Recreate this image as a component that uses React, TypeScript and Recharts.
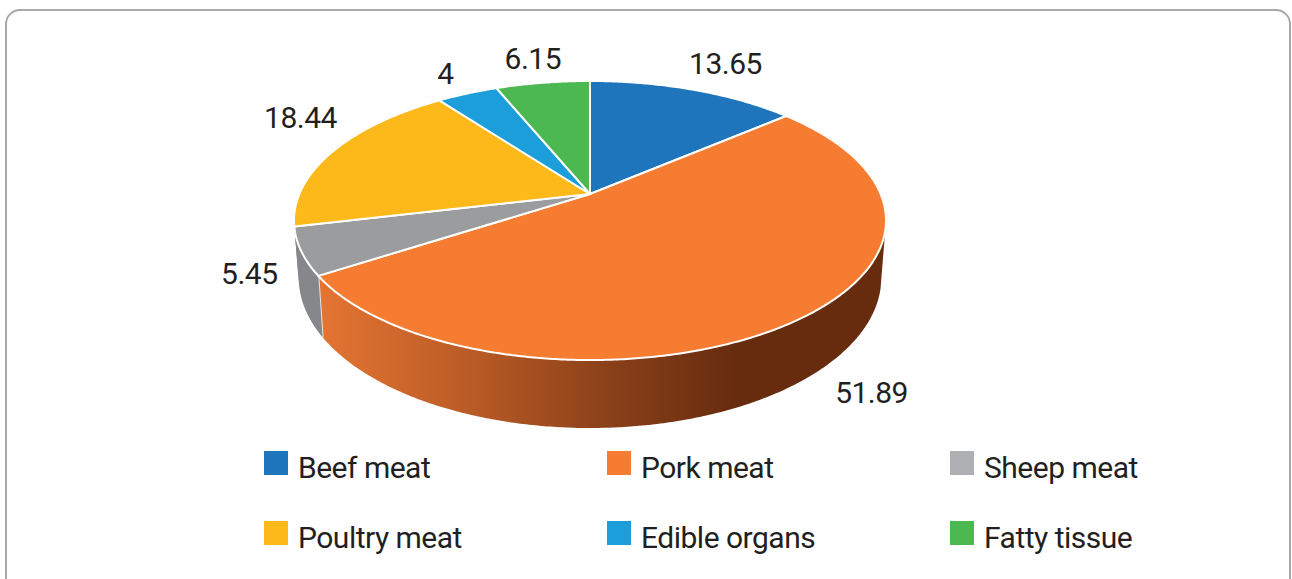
import React from "react";
import { PieChart, Pie, Legend } from "recharts";

const categories = ["Beef meat", "Pork meat", "Sheep meat", "Poultry meat", "Edible organs", "Fatty tissue"];
const shares = [13.65, 51.89, 5.45, 18.44, 4, 6.15];
const topColors = ["#1f75bc", "#f57c30", "#9a9c9e", "#fdb81a", "#1b9ed9", "#4cb851"];
const legendColors = ["#1f75bc", "#f57c30", "#aeb0b3", "#fdb81a", "#1b9ed9", "#4cb851"];
const sideColors = ["#1f75bc", "url(#porkWall)", "#85878a", "#85878a", "#1b9ed9", "#4cb851"];
const labelNudges = [[32, -26], [76, 72], [-52, 22], [-33, -33], [-22, -20], [-10, -24]];

const rows = categories.map((name, i) => ({ name, value: shares[i], fill: legendColors[i], top: topColors[i], side: sideColors[i] }));

const FONT = "Roboto, sans-serif";
const TRACKING = "-0.5px";
const CX = 590, CY = 194, K = -0.19;
const TOP = { a: 290.6, b: 134.5, y: CY };
const BASE = { a: 286, b: 145, y: 249 };
const VIEW_FROM = 105, VIEW_TO = 262;

function rim(theta: number, p: { a: number; b: number; y: number }) {
  const t = (theta * Math.PI) / 180;
  const u = Math.sin(t), v = -Math.cos(t), w = 1 + K * v;
  return [CX + (p.a * u) / w, p.y + (p.b * v) / w];
}
function arcPoints(from: number, to: number, p: { a: number; b: number; y: number }) {
  const pts: number[][] = [];
  const n = Math.max(2, Math.ceil(Math.abs(to - from) * 2));
  for (let i = 0; i <= n; i++) pts.push(rim(from + ((to - from) * i) / n, p));
  return pts;
}
const toPath = (pts: number[][]) => pts.map((q, i) => `${i ? "L" : "M"}${q[0].toFixed(2)},${q[1].toFixed(2)}`).join(" ");

function TopSlice(props: any) {
  const from = 90 - props.startAngle, to = 90 - props.endAngle;
  const d = `M${CX},${CY} ` + toPath(arcPoints(from, to, TOP)).replace(/^M/, "L") + " Z";
  return <path d={d} fill={props.payload?.top ?? props.top} stroke="#fff" strokeWidth={2} strokeLinejoin="round" />;
}

function SideSlice(props: any) {
  const from = Math.max(90 - props.startAngle, VIEW_FROM), to = Math.min(90 - props.endAngle, VIEW_TO);
  if (to <= from) return <g />;
  const upper = arcPoints(from, to, TOP), lower = arcPoints(to, from, BASE);
  const realEnd = 90 - props.endAngle;
  const seam = realEnd < VIEW_TO - 10;
  return (
    <g>
      <defs>
        <linearGradient id="porkWall" gradientUnits="userSpaceOnUse" x1={320} y1={0} x2={735} y2={0}>
          <stop offset="0" stopColor="#e47533" />
          <stop offset="0.35" stopColor="#bb5c26" />
          <stop offset="0.7" stopColor="#8a4019" />
          <stop offset="1" stopColor="#672c0e" />
        </linearGradient>
      </defs>
      <path d={toPath([...upper, ...lower]) + " Z"} fill={props.payload?.side ?? props.side} />
      {seam && <path d={toPath([rim(realEnd, TOP), rim(realEnd, BASE)])} stroke="#e6e7e8" strokeWidth={2} fill="none" />}
    </g>
  );
}

function renderLabel(props: any) {
  const theta = 90 - props.midAngle;
  const [x, y] = rim(theta, TOP);
  const [dx, dy] = labelNudges[props.index];
  return (
    <text x={x + dx} y={y + dy} textAnchor="middle" dominantBaseline="central" fontFamily={FONT} fontSize={30} letterSpacing={TRACKING} fill="#231f20">
      {props.value}
    </text>
  );
}

function LegendGrid({ payload }: any) {
  const seen = new Set<string>();
  const items = ((payload || []) as any[]).filter((it) => {
    if (it.type === "none" || seen.has(it.value)) return false;
    seen.add(it.value);
    return true;
  });
  items.sort((p, q) => categories.indexOf(p.value) - categories.indexOf(q.value));
  return (
    <div style={{ position: "relative", width: 1292, height: 579, fontFamily: FONT, fontSize: 30, letterSpacing: TRACKING, color: "#231f20" }}>
      {items.map((it, i) => {
        const col = i % 3, row = Math.floor(i / 3);
        const left = 264 + col * 343, top = 451 + row * 70;
        return (
          <React.Fragment key={i}>
            <div style={{ position: "absolute", left, top, width: 24, height: 24, background: it.color }} />
            <div style={{ position: "absolute", left: left + 34, top: top - 1, lineHeight: "36px", whiteSpace: "nowrap" }}>{it.value}</div>
          </React.Fragment>
        );
      })}
    </div>
  );
}

export default function App() {
  return (
    <div style={{ position: "absolute", left: 0, top: 0, width: 1292, height: 579, overflow: "hidden", background: "#fff" }}>
      <div style={{ position: "absolute", left: 5, top: 9, width: 1286, height: 640, border: "2.5px solid #a7a9ac", borderRadius: 15, boxSizing: "border-box" }} />
      <PieChart width={1292} height={579} margin={{ top: 0, right: 0, bottom: 0, left: 0 }} style={{ position: "absolute", left: 0, top: 0 }}>
        <Pie data={rows} dataKey="value" nameKey="name" cx={CX} cy={CY} outerRadius={200} startAngle={90} endAngle={-270} legendType="none" isAnimationActive={false} shape={SideSlice} label={false} labelLine={false} />
        <Pie data={rows} dataKey="value" nameKey="name" cx={CX} cy={CY} outerRadius={200} startAngle={90} endAngle={-270} legendType="square" isAnimationActive={false} shape={TopSlice} label={renderLabel} labelLine={false} />
        <Legend content={LegendGrid} wrapperStyle={{ position: "absolute", left: 0, top: 0, width: 1292, height: 579 }} />
      </PieChart>
    </div>
  );
}
